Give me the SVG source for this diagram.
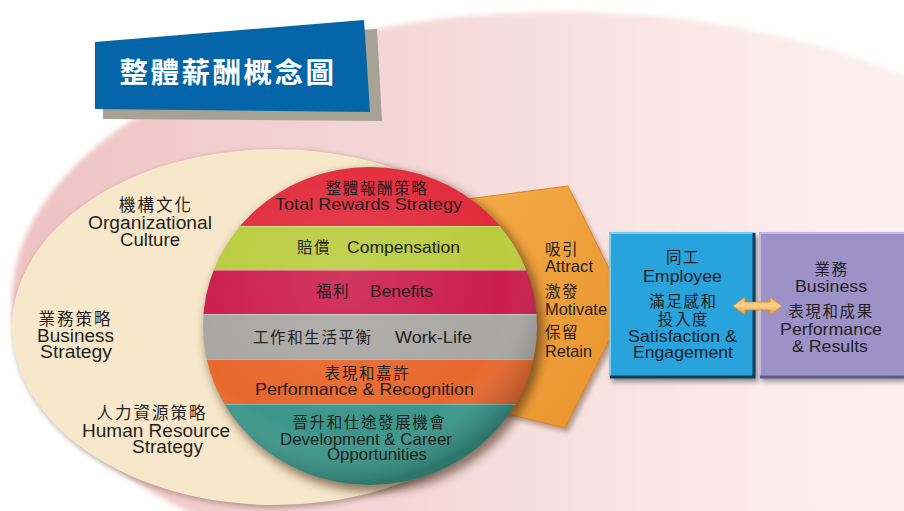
<svg xmlns="http://www.w3.org/2000/svg" width="904" height="511" viewBox="0 0 904 511">
<defs>
  <style>
    text { font-family: "Liberation Sans", "Noto Sans CJK TC", sans-serif; fill: #231f20; }
    .en { font-size: 16.5px; }
    .enl { font-size: 17.5px; }
    .zh { font-family: "Noto Sans CJK TC", sans-serif; font-size: 15.5px; letter-spacing: 1.6px; }
    .zhl { font-family: "Noto Sans CJK TC", sans-serif; font-size: 16.5px; letter-spacing: 2px; }
    .c { text-anchor: middle; }
    .title { font-family: "Noto Sans CJK TC", sans-serif; font-size: 28.5px; font-weight: bold; fill: #ffffff; letter-spacing: 2.5px; }
  </style>
  <linearGradient id="pinkG" x1="0" y1="0" x2="1" y2="0">
    <stop offset="0" stop-color="#efc2c2"/>
    <stop offset="0.4" stop-color="#f6dada"/>
    <stop offset="0.7" stop-color="#fbeceb"/>
    <stop offset="1" stop-color="#fef8f6"/>
  </linearGradient>
  <linearGradient id="arrowG" x1="0" y1="0" x2="1" y2="1">
    <stop offset="0" stop-color="#f4ac48"/>
    <stop offset="1" stop-color="#e8922c"/>
  </linearGradient>
  <linearGradient id="dblG" x1="0" y1="0" x2="0" y2="1">
    <stop offset="0" stop-color="#f6b455"/>
    <stop offset="0.5" stop-color="#fbd08a"/>
    <stop offset="1" stop-color="#e8902e"/>
  </linearGradient>
  <radialGradient id="shine" cx="0.42" cy="0.35" r="0.65">
    <stop offset="0" stop-color="#ffffff" stop-opacity="0.12"/>
    <stop offset="0.75" stop-color="#ffffff" stop-opacity="0"/>
    <stop offset="1" stop-color="#000000" stop-opacity="0.22"/>
  </radialGradient>
  <clipPath id="circClip">
    <ellipse cx="370" cy="326" rx="167" ry="159"/>
  </clipPath>
  <filter id="blur6" x="-20%" y="-20%" width="140%" height="140%">
    <feGaussianBlur stdDeviation="5"/>
  </filter>
  <filter id="blur3" x="-20%" y="-20%" width="140%" height="140%">
    <feGaussianBlur stdDeviation="2.5"/>
  </filter>
</defs>

<rect width="904" height="511" fill="#ffffff"/>

<!-- background field -->
<ellipse cx="560" cy="300" rx="548" ry="288" fill="url(#pinkG)" filter="url(#blur3)"/>

<!-- cream field -->
<g id="strategy-field">
  <ellipse cx="277" cy="329" rx="264" ry="179" fill="#6b5a4a" opacity="0.45" filter="url(#blur3)"/>
  <ellipse cx="275" cy="327" rx="263" ry="178" fill="#f8e8cb"/>
</g>

<!-- title -->
<g id="title">
  <polygon points="103,45 377,29 382,121 103,119" fill="#a6a294"/>
  <polygon points="95,42 364,20 370,112 95,109" fill="#0466a9"/>
  <text class="title c" x="228" y="83">整體薪酬概念圖</text>
</g>

<!-- left labels -->
<g id="org-culture">
  <text class="zhl c" x="156" y="211">機構文化</text>
  <text class="enl c" x="150" y="229" textLength="124" lengthAdjust="spacingAndGlyphs">Organizational</text>
  <text class="enl c" x="150" y="246" textLength="60" lengthAdjust="spacingAndGlyphs">Culture</text>
</g>
<g id="business-strategy">
  <text class="zhl c" x="75.5" y="325">業務策略</text>
  <text class="enl c" x="75.5" y="342" textLength="77" lengthAdjust="spacingAndGlyphs">Business</text>
  <text class="enl c" x="76" y="358" textLength="72" lengthAdjust="spacingAndGlyphs">Strategy</text>
</g>
<g id="hr-strategy">
  <text class="zhl c" x="152" y="419">人力資源策略</text>
  <text class="enl c" x="156" y="437" textLength="148" lengthAdjust="spacingAndGlyphs">Human Resource</text>
  <text class="enl c" x="167.5" y="453" textLength="71" lengthAdjust="spacingAndGlyphs">Strategy</text>
</g>

<!-- arrow -->
<g id="attract-arrow">
  <polygon points="462,204 570,190 631,309 568,432 462,406" fill="#5a3a20" opacity="0.45" filter="url(#blur3)"/>
  <polygon points="460,200 568,186 627,305 565,428 460,402" fill="url(#arrowG)" stroke="#d88628" stroke-width="1"/>
  <text class="zh" x="545" y="255">吸引</text>
  <text class="en" x="545" y="272" textLength="48" lengthAdjust="spacingAndGlyphs">Attract</text>
  <text class="zh" x="545" y="297">激發</text>
  <text class="en" x="545" y="315" textLength="62" lengthAdjust="spacingAndGlyphs">Motivate</text>
  <text class="zh" x="545" y="338">保留</text>
  <text class="en" x="545" y="357" textLength="47" lengthAdjust="spacingAndGlyphs">Retain</text>
</g>

<!-- total rewards circle -->
<g id="total-rewards">
  <ellipse cx="374" cy="331" rx="169" ry="161" fill="#3a2010" opacity="0.55" filter="url(#blur6)"/>
  <g clip-path="url(#circClip)">
    <rect x="200" y="160" width="340" height="67" fill="#e12a3b"/>
    <rect x="200" y="226" width="340" height="45" fill="#b9cc3d"/>
    <rect x="200" y="270" width="340" height="45" fill="#cb1c4b"/>
    <rect x="200" y="314" width="340" height="46" fill="#a9a7a4"/>
    <rect x="200" y="359" width="340" height="46" fill="#e8672d"/>
    <rect x="200" y="404" width="340" height="90" fill="#3b978a"/>
    <g stroke="#ffffff" stroke-opacity="0.35" stroke-width="1.2">
      <line x1="200" y1="226.5" x2="540" y2="226.5"/>
      <line x1="200" y1="270.5" x2="540" y2="270.5"/>
      <line x1="200" y1="314.5" x2="540" y2="314.5"/>
      <line x1="200" y1="359.5" x2="540" y2="359.5"/>
      <line x1="200" y1="404.5" x2="540" y2="404.5"/>
    </g>
    <ellipse cx="370" cy="326" rx="167" ry="159" fill="url(#shine)"/>
  </g>
  <text class="zh c" x="377" y="194">整體報酬策略</text>
  <text class="en c" x="368.5" y="210" textLength="187" lengthAdjust="spacingAndGlyphs">Total Rewards Strategy</text>
  <text class="zh" x="297" y="253">賠償</text>
  <text class="en" x="347" y="253" textLength="113" lengthAdjust="spacingAndGlyphs">Compensation</text>
  <text class="zh" x="316" y="297">福利</text>
  <text class="en" x="370" y="297" textLength="63" lengthAdjust="spacingAndGlyphs">Benefits</text>
  <text class="zh" x="253" y="343">工作和生活平衡</text>
  <text class="en" x="395" y="343" textLength="77" lengthAdjust="spacingAndGlyphs">Work-Life</text>
  <text class="zh c" x="367.5" y="379">表現和嘉許</text>
  <text class="en c" x="364.5" y="395" textLength="219" lengthAdjust="spacingAndGlyphs">Performance &amp; Recognition</text>
  <text class="zh c" x="369.5" y="428">晉升和仕途發展機會</text>
  <text class="en c" x="366" y="445" textLength="172" lengthAdjust="spacingAndGlyphs">Development &amp; Career</text>
  <text class="en c" x="377" y="460" textLength="100" lengthAdjust="spacingAndGlyphs">Opportunities</text>
</g>

<!-- employee box -->
<g id="employee">
  <rect x="612" y="236" width="146" height="146" fill="#20303a" opacity="0.5" filter="url(#blur3)"/>
  <rect x="610" y="233" width="145" height="145" fill="#28a3dc"/>
  <path d="M610,378 L610,233 L755,233" fill="none" stroke="#7dcdf0" stroke-width="2"/>
  <path d="M610,377 L754,377 L754,233" fill="none" stroke="#123a55" stroke-width="3"/>
  <text class="zh c" x="683" y="263">同工</text>
  <text class="en c" x="682.5" y="282" textLength="79" lengthAdjust="spacingAndGlyphs">Employee</text>
  <text class="zh c" x="683.5" y="307">滿足感和</text>
  <text class="zh c" x="683.5" y="325">投入度</text>
  <text class="en c" x="682.5" y="342" textLength="109" lengthAdjust="spacingAndGlyphs">Satisfaction &amp;</text>
  <text class="en c" x="683" y="358" textLength="100" lengthAdjust="spacingAndGlyphs">Engagement</text>
</g>

<!-- business box -->
<g id="business-results">
  <rect x="762" y="236" width="146" height="146" fill="#303040" opacity="0.45" filter="url(#blur3)"/>
  <rect x="760" y="233" width="146" height="145" fill="#9c92c7"/>
  <path d="M760,378 L760,233 L906,233" fill="none" stroke="#c2bae2" stroke-width="2"/>
  <path d="M760,377 L906,377" fill="none" stroke="#5e5787" stroke-width="3"/>
  <text class="zh c" x="831.5" y="275">業務</text>
  <text class="en c" x="831" y="292" textLength="72" lengthAdjust="spacingAndGlyphs">Business</text>
  <text class="zh c" x="831" y="317">表現和成果</text>
  <text class="en c" x="831" y="335" textLength="102" lengthAdjust="spacingAndGlyphs">Performance</text>
  <text class="en c" x="830" y="352" textLength="76" lengthAdjust="spacingAndGlyphs">&amp; Results</text>
</g>

<!-- connectors -->
<g id="connectors">
  <polygon points="733,306 745,297 745,302 770,302 770,297 782,306 770,315 770,310 745,310 745,315" fill="url(#dblG)" stroke="#d98a2c" stroke-width="0.8"/>
</g>
</svg>
